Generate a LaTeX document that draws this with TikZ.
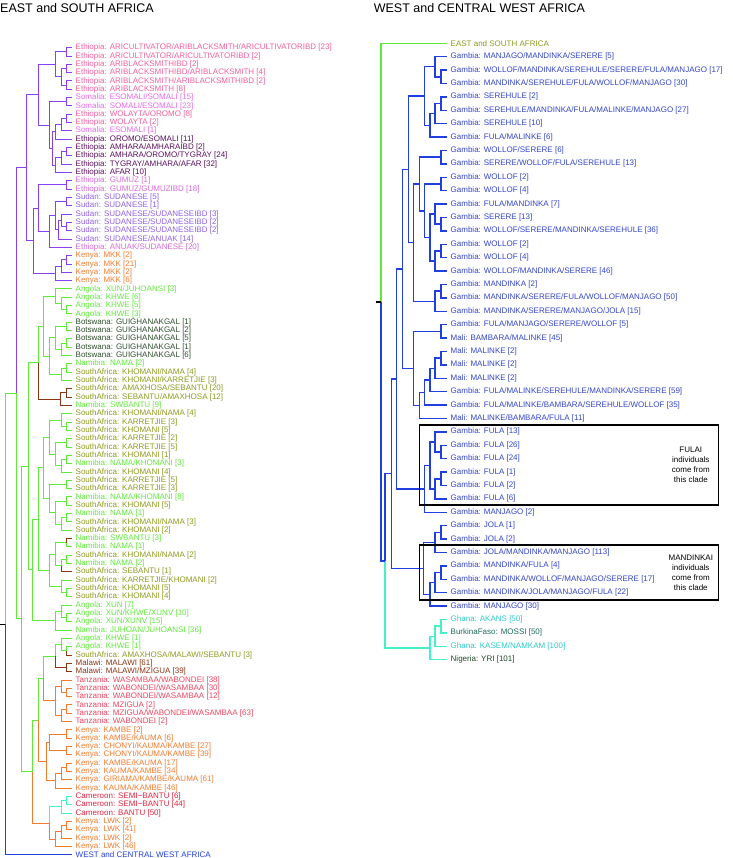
\documentclass[tikz,border=0pt]{standalone}
\usepackage{fontspec}
\setmainfont{Liberation Sans}
\usetikzlibrary{calc, positioning}
\definecolor{TreePurple}{HTML}{8A3FF0}
\definecolor{AriPink}{HTML}{F0609E}
\definecolor{SomMagenta}{HTML}{E56BEA}
\definecolor{EthPlum}{HTML}{5A0F5E}
\definecolor{Orchid}{HTML}{D46AD8}
\definecolor{SudViolet}{HTML}{8F5FE6}
\definecolor{KenOrange}{HTML}{F27B2E}
\definecolor{LightGreen}{HTML}{5FEA3A}
\definecolor{BotsGreen}{HTML}{2E4F2E}
\definecolor{SAOlive}{HTML}{8E9A1E}
\definecolor{BantuBrown}{HTML}{8A3514}
\definecolor{TanzRed}{HTML}{EC4560}
\definecolor{CamRed}{HTML}{E0223E}
\definecolor{CamCyan}{HTML}{44F0C8}
\definecolor{TreeBlue}{HTML}{1F3FE0}
\definecolor{GamBlue}{HTML}{3445C8}
\definecolor{GhanaCyan}{HTML}{30C8C8}
\definecolor{MossiTeal}{HTML}{1E6B5C}
\definecolor{YriGreen}{HTML}{1D4B26}
% join two clades at depth x: name, x, upper, lower, upper style, lower style
\newcommand{\jn}[6]{%
  \path let \p1=($(#3)!0.5!(#4)$) in coordinate (#1) at (#2pt,\y1);
  \draw[#5] (#1) |- (#3);
  \draw[#6] (#1) |- (#4);}
% leaves of the left and right trees
\newcommand{\lleaf}[3]{\coordinate (l#1) at (72,{47.7+(#1-1)*8.32});
  \node[lbl, text=#2, right=0pt of l#1] (L#1) {#3};}
\newcommand{\rleaf}[3]{\coordinate (r#1) at (447,{43.3+(#1-1)*13.4});
  \node[lbl, text=#2, right=0pt of r#1] (R#1) {#3};}

\begin{document}
\begin{tikzpicture}[x=1pt, y=-1pt,
    lbl/.style={anchor=west, inner xsep=3.5pt, inner ysep=0pt, font=\fontsize{8}{8}\selectfont},
    ttl/.style={anchor=west, inner sep=0pt, font=\fontsize{12.5}{12.5}\selectfont},
    note/.style={align=center, inner sep=0pt, font=\fontsize{8}{10}\selectfont},
    cladebox/.style={draw=black, line width=1.3pt, inner sep=0pt},
    lp/.style={TreePurple, line width=1pt},
    lg/.style={LightGreen, line width=1pt},
    lb/.style={BantuBrown, line width=1pt},
    lo/.style={KenOrange, line width=1pt},
    lc/.style={CamCyan, line width=1pt},
    lB/.style={TreeBlue, line width=1pt},
    rb/.style={TreeBlue, line width=1.5pt},
    rg/.style={LightGreen, line width=1.5pt},
    rc/.style={CamCyan, line width=1.5pt}
  ]
\useasboundingbox (0,0) rectangle (732,858);

\node[ttl] (ttlEast) at (0,8) {EAST and SOUTH AFRICA};
\node[ttl] (ttlWest) at (373.6,8) {WEST and CENTRAL WEST AFRICA};

% left tree leaves
\lleaf{1}{AriPink}{Ethiopia: ARICULTIVATOR/ARIBLACKSMITH/ARICULTIVATORIBD [23]}
\lleaf{2}{AriPink}{Ethiopia: ARICULTIVATOR/ARICULTIVATORIBD [2]}
\lleaf{3}{AriPink}{Ethiopia: ARIBLACKSMITHIBD [2]}
\lleaf{4}{AriPink}{Ethiopia: ARIBLACKSMITHIBD/ARIBLACKSMITH [4]}
\lleaf{5}{AriPink}{Ethiopia: ARIBLACKSMITH/ARIBLACKSMITHIBD [2]}
\lleaf{6}{AriPink}{Ethiopia: ARIBLACKSMITH [8]}
\lleaf{7}{SomMagenta}{Somalia: ESOMALI/SOMALI [15]}
\lleaf{8}{SomMagenta}{Somalia: SOMALI/ESOMALI [23]}
\lleaf{9}{AriPink}{Ethiopia: WOLAYTA/OROMO [8]}
\lleaf{10}{AriPink}{Ethiopia: WOLAYTA [2]}
\lleaf{11}{SomMagenta}{Somalia: ESOMALI [1]}
\lleaf{12}{EthPlum}{Ethiopia: OROMO/ESOMALI [11]}
\lleaf{13}{EthPlum}{Ethiopia: AMHARA/AMHARAIBD [2]}
\lleaf{14}{EthPlum}{Ethiopia: AMHARA/OROMO/TYGRAY [24]}
\lleaf{15}{EthPlum}{Ethiopia: TYGRAY/AMHARA/AFAR [32]}
\lleaf{16}{EthPlum}{Ethiopia: AFAR [10]}
\lleaf{17}{Orchid}{Ethiopia: GUMUZ [1]}
\lleaf{18}{Orchid}{Ethiopia: GUMUZ/GUMUZIBD [18]}
\lleaf{19}{SudViolet}{Sudan: SUDANESE [5]}
\lleaf{20}{SudViolet}{Sudan: SUDANESE [1]}
\lleaf{21}{SudViolet}{Sudan: SUDANESE/SUDANESEIBD [3]}
\lleaf{22}{SudViolet}{Sudan: SUDANESE/SUDANESEIBD [2]}
\lleaf{23}{SudViolet}{Sudan: SUDANESE/SUDANESEIBD [2]}
\lleaf{24}{SudViolet}{Sudan: SUDANESE/ANUAK [14]}
\lleaf{25}{Orchid}{Ethiopia: ANUAK/SUDANESE [20]}
\lleaf{26}{KenOrange}{Kenya: MKK [2]}
\lleaf{27}{KenOrange}{Kenya: MKK [21]}
\lleaf{28}{KenOrange}{Kenya: MKK [2]}
\lleaf{29}{KenOrange}{Kenya: MKK [6]}
\lleaf{30}{LightGreen}{Angola: XUN/JUHOANSI [3]}
\lleaf{31}{LightGreen}{Angola: KHWE [6]}
\lleaf{32}{LightGreen}{Angola: KHWE [5]}
\lleaf{33}{LightGreen}{Angola: KHWE [3]}
\lleaf{34}{BotsGreen}{Botswana: GUIGHANAKGAL [1]}
\lleaf{35}{BotsGreen}{Botswana: GUIGHANAKGAL [2]}
\lleaf{36}{BotsGreen}{Botswana: GUIGHANAKGAL [5]}
\lleaf{37}{BotsGreen}{Botswana: GUIGHANAKGAL [1]}
\lleaf{38}{BotsGreen}{Botswana: GUIGHANAKGAL [6]}
\lleaf{39}{LightGreen}{Namibia: NAMA [2]}
\lleaf{40}{SAOlive}{SouthAfrica: KHOMANI/NAMA [4]}
\lleaf{41}{SAOlive}{SouthAfrica: KHOMANI/KARRETJIE [3]}
\lleaf{42}{SAOlive}{SouthAfrica: AMAXHOSA/SEBANTU [20]}
\lleaf{43}{SAOlive}{SouthAfrica: SEBANTU/AMAXHOSA [12]}
\lleaf{44}{LightGreen}{Namibia: SWBANTU [9]}
\lleaf{45}{SAOlive}{SouthAfrica: KHOMANI/NAMA [4]}
\lleaf{46}{SAOlive}{SouthAfrica: KARRETJIE [3]}
\lleaf{47}{SAOlive}{SouthAfrica: KHOMANI [5]}
\lleaf{48}{SAOlive}{SouthAfrica: KARRETJIE [2]}
\lleaf{49}{SAOlive}{SouthAfrica: KARRETJIE [5]}
\lleaf{50}{SAOlive}{SouthAfrica: KHOMANI [1]}
\lleaf{51}{LightGreen}{Namibia: NAMA/KHOMANI [3]}
\lleaf{52}{SAOlive}{SouthAfrica: KHOMANI [4]}
\lleaf{53}{SAOlive}{SouthAfrica: KARRETJIE [5]}
\lleaf{54}{SAOlive}{SouthAfrica: KARRETJIE [3]}
\lleaf{55}{LightGreen}{Namibia: NAMA/KHOMANI [8]}
\lleaf{56}{SAOlive}{SouthAfrica: KHOMANI [5]}
\lleaf{57}{LightGreen}{Namibia: NAMA [1]}
\lleaf{58}{SAOlive}{SouthAfrica: KHOMANI/NAMA [3]}
\lleaf{59}{SAOlive}{SouthAfrica: KHOMANI [2]}
\lleaf{60}{LightGreen}{Namibia: SWBANTU [3]}
\lleaf{61}{LightGreen}{Namibia: NAMA [1]}
\lleaf{62}{SAOlive}{SouthAfrica: KHOMANI/NAMA [2]}
\lleaf{63}{LightGreen}{Namibia: NAMA [2]}
\lleaf{64}{SAOlive}{SouthAfrica: SEBANTU [1]}
\lleaf{65}{SAOlive}{SouthAfrica: KARRETJIE/KHOMANI [2]}
\lleaf{66}{SAOlive}{SouthAfrica: KHOMANI [5]}
\lleaf{67}{SAOlive}{SouthAfrica: KHOMANI [4]}
\lleaf{68}{LightGreen}{Angola: XUN [7]}
\lleaf{69}{LightGreen}{Angola: XUN/KHWE/XUNV [10]}
\lleaf{70}{LightGreen}{Angola: XUN/XUNV [15]}
\lleaf{71}{LightGreen}{Namibia: JUHOAN/JUHOANSI [36]}
\lleaf{72}{LightGreen}{Angola: KHWE [1]}
\lleaf{73}{LightGreen}{Angola: KHWE [1]}
\lleaf{74}{SAOlive}{SouthAfrica: AMAXHOSA/MALAWI/SEBANTU [3]}
\lleaf{75}{BantuBrown}{Malawi: MALAWI [61]}
\lleaf{76}{BantuBrown}{Malawi: MALAWI/MZIGUA [39]}
\lleaf{77}{TanzRed}{Tanzania: WASAMBAA/WABONDEI [38]}
\lleaf{78}{TanzRed}{Tanzania: WABONDEI/WASAMBAA [30]}
\lleaf{79}{TanzRed}{Tanzania: WABONDEI/WASAMBAA [12]}
\lleaf{80}{TanzRed}{Tanzania: MZIGUA [2]}
\lleaf{81}{TanzRed}{Tanzania: MZIGUA/WABONDEI/WASAMBAA [63]}
\lleaf{82}{TanzRed}{Tanzania: WABONDEI [2]}
\lleaf{83}{KenOrange}{Kenya: KAMBE [2]}
\lleaf{84}{KenOrange}{Kenya: KAMBE/KAUMA [6]}
\lleaf{85}{KenOrange}{Kenya: CHONYI/KAUMA/KAMBE [27]}
\lleaf{86}{KenOrange}{Kenya: CHONYI/KAUMA/KAMBE [39]}
\lleaf{87}{KenOrange}{Kenya: KAMBE/KAUMA [17]}
\lleaf{88}{KenOrange}{Kenya: KAUMA/KAMBE [34]}
\lleaf{89}{KenOrange}{Kenya: GIRIAMA/KAMBE/KAUMA [61]}
\lleaf{90}{KenOrange}{Kenya: KAUMA/KAMBE [46]}
\lleaf{91}{CamRed}{Cameroon: SEMI−BANTU [6]}
\lleaf{92}{CamRed}{Cameroon: SEMI−BANTU [44]}
\lleaf{93}{CamRed}{Cameroon: BANTU [50]}
\lleaf{94}{KenOrange}{Kenya: LWK [2]}
\lleaf{95}{KenOrange}{Kenya: LWK [41]}
\lleaf{96}{KenOrange}{Kenya: LWK [2]}
\lleaf{97}{KenOrange}{Kenya: LWK [46]}
\lleaf{98}{TreeBlue}{WEST and CENTRAL WEST AFRICA}

% left tree: East Africa
\jn{a12}{66}{l1}{l2}{lp}{lp}
\jn{a34}{66}{l3}{l4}{lp}{lp}
\jn{a56}{66}{l5}{l6}{lp}{lp}
\jn{a36}{61}{a34}{a56}{lp}{lp}
\jn{a16}{55}{a12}{a36}{lp}{lp}
\jn{a78}{66}{l7}{l8}{lp}{lp}
\jn{a910}{66}{l9}{l10}{lp}{lp}
\jn{a911}{61}{a910}{l11}{lp}{lp}
\jn{a912}{55}{a911}{l12}{lp}{lp}
\jn{a1314}{66}{l13}{l14}{lp}{lp}
\jn{a1315}{61}{a1314}{l15}{lp}{lp}
\jn{a1316}{55}{a1315}{l16}{lp}{lp}
\jn{a916}{52}{a912}{a1316}{lp}{lp}
\jn{a716}{49.3}{a78}{a916}{lp}{lp}
\jn{a116}{38.3}{a16}{a716}{lp}{lp}
\jn{a1718}{66}{l17}{l18}{lp}{lp}
\jn{a1920}{66}{l19}{l20}{lp}{lp}
\jn{a2223}{66}{l22}{l23}{lp}{lp}
\jn{a2123}{61}{l21}{a2223}{lp}{lp}
\jn{a2124}{58}{a2123}{l24}{lp}{lp}
\jn{a1924}{55}{a1920}{a2124}{lp}{lp}
\jn{a1925}{49.3}{a1924}{l25}{lp}{lp}
\jn{a1725}{38.3}{a1718}{a1925}{lp}{lp}
\jn{a2627}{66}{l26}{l27}{lp}{lp}
\jn{a2628}{61}{a2627}{l28}{lp}{lp}
\jn{a2629}{55}{a2628}{l29}{lp}{lp}
\jn{a1729}{33}{a1725}{a2629}{lp}{lp}
\jn{aP}{26.7}{a116}{a1729}{lp}{lp}

% left tree: South Africa
\jn{a3233}{66}{l32}{l33}{lg}{lg}
\jn{a3133}{61}{l31}{a3233}{lg}{lg}
\jn{a3033}{55}{l30}{a3133}{lg}{lg}
\jn{a3435}{66}{l34}{l35}{lg}{lg}
\jn{a3637}{66}{l36}{l37}{lg}{lg}
\jn{a3638}{61}{a3637}{l38}{lg}{lg}
\jn{a3438}{55}{a3435}{a3638}{lg}{lg}
\jn{a3940}{66}{l39}{l40}{lg}{lg}
\jn{a3941}{61}{a3940}{l41}{lg}{lg}
\jn{a3441}{49.3}{a3438}{a3941}{lg}{lg}
\jn{a3041}{43.3}{a3033}{a3441}{lg}{lg}
\jn{a4243}{66}{l42}{l43}{lb}{lb}
\jn{a4244}{60}{a4243}{l44}{lb}{lb}
\jn{a3044}{38.3}{a3041}{a4244}{lg}{lb}
\jn{a4647}{66}{l46}{l47}{lg}{lg}
\jn{a4547}{61}{l45}{a4647}{lg}{lg}
\jn{a4849}{66}{l48}{l49}{lg}{lg}
\jn{a5051}{66}{l50}{l51}{lg}{lg}
\jn{a5052}{61}{a5051}{l52}{lg}{lg}
\jn{a4852}{55}{a4849}{a5052}{lg}{lg}
\jn{a4552}{49.3}{a4547}{a4852}{lg}{lg}
\jn{a5354}{66}{l53}{l54}{lg}{lg}
\jn{a5556}{66}{l55}{l56}{lg}{lg}
\jn{a5758}{66}{l57}{l58}{lg}{lg}
\jn{a5759}{61}{a5758}{l59}{lg}{lg}
\jn{a5559}{55}{a5556}{a5759}{lg}{lg}
\jn{a5359}{49.3}{a5354}{a5559}{lg}{lg}
\jn{a4559}{43.3}{a4552}{a5359}{lg}{lg}
\jn{a6061}{66}{l60}{l61}{lb}{lg}
\jn{a6263}{66}{l62}{l63}{lg}{lg}
\jn{a6264}{61}{a6263}{l64}{lg}{lb}
\jn{a6064}{55}{a6061}{a6264}{lg}{lg}
\jn{a6667}{66}{l66}{l67}{lg}{lg}
\jn{a6567}{61}{l65}{a6667}{lg}{lg}
\jn{a6067}{49.3}{a6064}{a6567}{lg}{lg}
\jn{a4567}{38.3}{a4559}{a6067}{lg}{lg}
\jn{a6970}{66}{l69}{l70}{lg}{lg}
\jn{a6870}{61}{l68}{a6970}{lg}{lg}
\jn{a6871}{55}{a6870}{l71}{lg}{lg}
\jn{a4571}{32.7}{a4567}{a6871}{lg}{lg}
\jn{aH}{28.3}{a3044}{a4571}{lg}{lg}

% left tree: Bantu
\jn{a7374}{66}{l73}{l74}{lg}{lb}
\jn{a7274}{61}{l72}{a7374}{lg}{lg}
\jn{a7576}{66}{l75}{l76}{lb}{lb}
\jn{a7276}{55}{a7274}{a7576}{lg}{lb}
\jn{a7879}{66}{l78}{l79}{lo}{lo}
\jn{a7779}{61}{l77}{a7879}{lo}{lo}
\jn{a8081}{66}{l80}{l81}{lo}{lo}
\jn{a8082}{61}{a8081}{l82}{lo}{lo}
\jn{a7782}{55}{a7779}{a8082}{lo}{lo}
\jn{a7282}{43.3}{a7276}{a7782}{lg}{lo}
\jn{a8384}{66}{l83}{l84}{lo}{lo}
\jn{a8586}{66}{l85}{l86}{lo}{lo}
\jn{a8386}{49.3}{a8384}{a8586}{lo}{lo}
\jn{a8788}{66}{l87}{l88}{lo}{lo}
\jn{a8789}{61}{a8788}{l89}{lo}{lo}
\jn{a8790}{55}{a8789}{l90}{lo}{lo}
\jn{a8390}{46}{a8386}{a8790}{lo}{lo}
\jn{a7290}{38.3}{a7282}{a8390}{lg}{lo}
\jn{a9192}{66}{l91}{l92}{lc}{lc}
\jn{a9193}{61}{a9192}{l93}{lc}{lc}
\jn{a9495}{66}{l94}{l95}{lo}{lo}
\jn{a9496}{61}{a9495}{l96}{lo}{lo}
\jn{a9497}{55}{a9496}{l97}{lo}{lo}
\jn{a9197}{49.3}{a9193}{a9497}{lc}{lo}
\jn{aB}{32.7}{a7290}{a9197}{lg}{lo}
\jn{aG}{21.7}{aH}{aB}{lg}{lg}
\jn{aA}{16.7}{aP}{aG}{lp}{lg}
\jn{aRoot}{5}{aA}{l98}{lg}{lB}
\draw[line width=1pt] (aRoot) -- ++(-5,0) coordinate (aStem);

% right tree leaves
\rleaf{1}{SAOlive}{EAST and SOUTH AFRICA}
\rleaf{2}{GamBlue}{Gambia: MANJAGO/MANDINKA/SERERE [5]}
\rleaf{3}{GamBlue}{Gambia: WOLLOF/MANDINKA/SEREHULE/SERERE/FULA/MANJAGO [17]}
\rleaf{4}{GamBlue}{Gambia: MANDINKA/SEREHULE/FULA/WOLLOF/MANJAGO [30]}
\rleaf{5}{GamBlue}{Gambia: SEREHULE [2]}
\rleaf{6}{GamBlue}{Gambia: SEREHULE/MANDINKA/FULA/MALINKE/MANJAGO [27]}
\rleaf{7}{GamBlue}{Gambia: SEREHULE [10]}
\rleaf{8}{GamBlue}{Gambia: FULA/MALINKE [6]}
\rleaf{9}{GamBlue}{Gambia: WOLLOF/SERERE [6]}
\rleaf{10}{GamBlue}{Gambia: SERERE/WOLLOF/FULA/SEREHULE [13]}
\rleaf{11}{GamBlue}{Gambia: WOLLOF [2]}
\rleaf{12}{GamBlue}{Gambia: WOLLOF [4]}
\rleaf{13}{GamBlue}{Gambia: FULA/MANDINKA [7]}
\rleaf{14}{GamBlue}{Gambia: SERERE [13]}
\rleaf{15}{GamBlue}{Gambia: WOLLOF/SERERE/MANDINKA/SEREHULE [36]}
\rleaf{16}{GamBlue}{Gambia: WOLLOF [2]}
\rleaf{17}{GamBlue}{Gambia: WOLLOF [4]}
\rleaf{18}{GamBlue}{Gambia: WOLLOF/MANDINKA/SERERE [46]}
\rleaf{19}{GamBlue}{Gambia: MANDINKA [2]}
\rleaf{20}{GamBlue}{Gambia: MANDINKA/SERERE/FULA/WOLLOF/MANJAGO [50]}
\rleaf{21}{GamBlue}{Gambia: MANDINKA/SERERE/MANJAGO/JOLA [15]}
\rleaf{22}{GamBlue}{Gambia: FULA/MANJAGO/SERERE/WOLLOF [5]}
\rleaf{23}{GamBlue}{Mali: BAMBARA/MALINKE [45]}
\rleaf{24}{GamBlue}{Mali: MALINKE [2]}
\rleaf{25}{GamBlue}{Mali: MALINKE [2]}
\rleaf{26}{GamBlue}{Mali: MALINKE [2]}
\rleaf{27}{GamBlue}{Gambia: FULA/MALINKE/SEREHULE/MANDINKA/SERERE [59]}
\rleaf{28}{GamBlue}{Gambia: FULA/MALINKE/BAMBARA/SEREHULE/WOLLOF [35]}
\rleaf{29}{GamBlue}{Mali: MALINKE/BAMBARA/FULA [11]}
\rleaf{30}{GamBlue}{Gambia: FULA [13]}
\rleaf{31}{GamBlue}{Gambia: FULA [26]}
\rleaf{32}{GamBlue}{Gambia: FULA [24]}
\rleaf{33}{GamBlue}{Gambia: FULA [1]}
\rleaf{34}{GamBlue}{Gambia: FULA [2]}
\rleaf{35}{GamBlue}{Gambia: FULA [6]}
\rleaf{36}{GamBlue}{Gambia: MANJAGO [2]}
\rleaf{37}{GamBlue}{Gambia: JOLA [1]}
\rleaf{38}{GamBlue}{Gambia: JOLA [2]}
\rleaf{39}{GamBlue}{Gambia: JOLA/MANDINKA/MANJAGO [113]}
\rleaf{40}{GamBlue}{Gambia: MANDINKA/FULA [4]}
\rleaf{41}{GamBlue}{Gambia: MANDINKA/WOLLOF/MANJAGO/SERERE [17]}
\rleaf{42}{GamBlue}{Gambia: MANDINKA/JOLA/MANJAGO/FULA [22]}
\rleaf{43}{GamBlue}{Gambia: MANJAGO [30]}
\rleaf{44}{GhanaCyan}{Ghana: AKANS [50]}
\rleaf{45}{MossiTeal}{BurkinaFaso: MOSSI [50]}
\rleaf{46}{GhanaCyan}{Ghana: KASEM/NAMKAM [100]}
\rleaf{47}{YriGreen}{Nigeria: YRI [101]}

% right tree
\jn{b34}{441}{r3}{r4}{rb}{rb}
\jn{b24}{435}{r2}{b34}{rb}{rb}
\jn{b56}{441}{r5}{r6}{rb}{rb}
\jn{b57}{435}{b56}{r7}{rb}{rb}
\jn{b58}{430}{b57}{r8}{rb}{rb}
\jn{b28}{424.3}{b24}{b58}{rb}{rb}
\jn{b910}{441}{r9}{r10}{rb}{rb}
\jn{b1112}{441}{r11}{r12}{rb}{rb}
\jn{b1415}{441}{r14}{r15}{rb}{rb}
\jn{b1315}{435}{r13}{b1415}{rb}{rb}
\jn{b1617}{441}{r16}{r17}{rb}{rb}
\jn{b1618}{435}{b1617}{r18}{rb}{rb}
\jn{b1318}{430}{b1315}{b1618}{rb}{rb}
\jn{b1118}{424.3}{b1112}{b1318}{rb}{rb}
\jn{b918}{419.3}{b910}{b1118}{rb}{rb}
\jn{b1920}{441}{r19}{r20}{rb}{rb}
\jn{b1921}{435}{b1920}{r21}{rb}{rb}
\jn{b921}{413.3}{b918}{b1921}{rb}{rb}
\jn{b221}{408.3}{b28}{b921}{rb}{rb}
\jn{b2223}{441}{r22}{r23}{rb}{rb}
\jn{b2425}{441}{r24}{r25}{rb}{rb}
\jn{b2426}{435}{b2425}{r26}{rb}{rb}
\jn{b2427}{430}{b2426}{r27}{rb}{rb}
\jn{b2428}{424.3}{b2427}{r28}{rb}{rb}
\jn{b2429}{419.3}{b2428}{r29}{rb}{rb}
\jn{b2229}{413.3}{b2223}{b2429}{rb}{rb}
\jn{b229}{402.7}{b221}{b2229}{rb}{rb}
\jn{b3132}{441}{r31}{r32}{rb}{rb}
\jn{b3032}{435}{r30}{b3132}{rb}{rb}
\jn{b3334}{441}{r33}{r34}{rb}{rb}
\jn{b3335}{435}{b3334}{r35}{rb}{rb}
\jn{b3035}{430}{b3032}{b3335}{rb}{rb}
\jn{b3036}{424.3}{b3035}{r36}{rb}{rb}
\jn{b236}{396.7}{b229}{b3036}{rb}{rb}
\jn{b3738}{441}{r37}{r38}{rb}{rb}
\jn{b3739}{435}{b3738}{r39}{rb}{rb}
\jn{b4041}{441}{r40}{r41}{rb}{rb}
\jn{b4042}{435}{b4041}{r42}{rb}{rb}
\jn{b4043}{430}{b4042}{r43}{rb}{rb}
\jn{b3743}{423.3}{b3739}{b4043}{rb}{rb}
\jn{b243}{391.7}{b236}{b3743}{rb}{rb}
\jn{b4445}{441}{r44}{r45}{rc}{rc}
\jn{b4446}{435}{b4445}{r46}{rc}{rc}
\jn{b4447}{430}{b4446}{r47}{rc}{rc}
\jn{bW}{385}{b243}{b4447}{rb}{rc}
\jn{bRoot}{381}{r1}{bW}{rg}{rb}
\draw[line width=1.3pt] (bRoot) -- ++(-5,0) coordinate (bStem);

% clades that hold the admixture sources
\node[cladebox, minimum width=299pt, minimum height=80pt] (fulaBox) at (568.8,465) {};
\node[note] (fulaNote) at (690.8,465) {FULAI\\individuals\\come from\\this clade};
\node[cladebox, minimum width=299pt, minimum height=55pt] (mandBox) at (568.8,572.5) {};
\node[note] (mandNote) at (690.8,572.3) {MANDINKAI\\individuals\\come from\\this clade};
\end{tikzpicture}
\end{document}
